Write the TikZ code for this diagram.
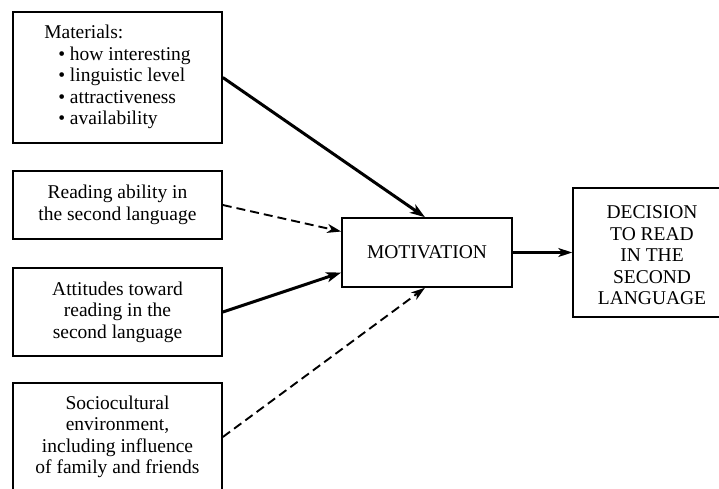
\documentclass[tikz,border=0pt]{standalone}
\usepackage{fontspec}
\setmainfont{Liberation Serif}
\usetikzlibrary{arrows.meta}
\begin{document}
\begin{tikzpicture}[x=1pt,y=-1pt,
  box/.style={draw,line width=1.6pt,rectangle,inner sep=0pt,align=center,
    font=\fontsize{19.5}{21.5}\selectfont},
  solidarr/.style={line width=3pt,-{Stealth[length=15pt,width=10pt,inset=4pt]}},
  dasharr/.style={line width=1.9pt,dash pattern=on 9pt off 5pt,-{Stealth[length=14pt,width=9pt,inset=4pt]}},
  thinarr/.style={line width=2.2pt,-{Stealth[length=14pt,width=9pt,inset=4pt]}}]
\clip (0,0) rectangle (719,488);
\fill[white] (0,0) rectangle (719,488);
\node[box,minimum width=209pt,minimum height=131pt] (mat) at (117.5,77.5)
  {\begin{tabular}{@{}l@{}}Materials:\\
   \hspace{14pt}• how interesting\\
   \hspace{14pt}• linguistic level\\
   \hspace{14pt}• attractiveness\\
   \hspace{14pt}• availability\end{tabular}};
\node[box,minimum width=209pt,minimum height=68pt] (abil) at (117.5,205)
  {Reading ability in\\the second language};
\node[box,minimum width=209pt,minimum height=88pt] (att) at (117.5,312)
  {Attitudes toward\\reading in the\\second language};
\node[box,minimum width=209pt,minimum height=108pt] (soc) at (117.5,437)
  {Sociocultural\\environment,\\including influence\\of family and friends};
\node[box,minimum width=170pt,minimum height=69pt] (mot) at (427,252.5)
  {MOTIVATION};
\node[box,minimum width=158pt,minimum height=129pt] (dec) at (652,252.5)
  {\raisebox{-5pt}[\height][\depth]{\begin{tabular}{@{}c@{}}DECISION\\TO READ\\IN THE\\SECOND\\LANGUAGE\end{tabular}}};
\draw[solidarr] (mat.east) -- ([xshift=-2pt]mot.north);
\draw[dasharr] (abil.east) -- ([yshift=21pt]mot.west);
\draw[solidarr] (att.east) -- ([yshift=-20pt]mot.west);
\draw[dasharr] (soc.east) -- ([xshift=-2pt]mot.south);
\draw[thinarr] (mot.east) -- (dec.west);
\end{tikzpicture}
\end{document}
